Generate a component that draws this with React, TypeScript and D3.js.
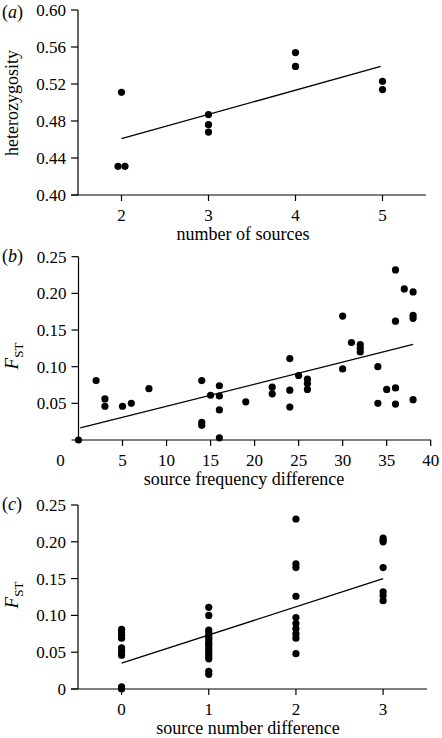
import { useEffect, useRef } from 'react';
import * as d3 from 'd3';

// (a) heterozygosity against number of sources
const sourcesX = [1.96, 2.04, 2, 3, 3, 3, 4, 4, 5, 5];
const heteroY = [0.431, 0.431, 0.511, 0.487, 0.476, 0.468, 0.554, 0.539, 0.523, 0.514];
const fitA = [[2, 0.461], [4.98, 0.539]];
const ticksAX = [2, 3, 4, 5];
const ticksAY = [0.4, 0.44, 0.48, 0.52, 0.56, 0.6];

// (b) FST against source frequency difference
const freqDiffX = [0, 2, 3, 3, 5, 6, 8, 14, 14, 14, 15, 16, 16, 16, 16, 19, 22, 22, 24, 24, 24, 25,
    26, 26, 26, 30, 30, 31, 32, 32, 32, 34, 34, 35, 36, 36, 36, 36, 37, 38, 38, 38, 38];
const fstB = [0.0, 0.081, 0.056, 0.046, 0.046, 0.05, 0.07, 0.081, 0.024, 0.02, 0.061, 0.074, 0.06,
    0.041, 0.003, 0.052, 0.072, 0.063, 0.111, 0.068, 0.045, 0.088, 0.083, 0.077, 0.069, 0.169, 0.097,
    0.133, 0.13, 0.125, 0.12, 0.1, 0.05, 0.069, 0.232, 0.162, 0.071, 0.049, 0.206, 0.202, 0.17, 0.166, 0.055];
const fitB = [[0.2, 0.0164], [38, 0.1305]];
const ticksBX = [0, 5, 10, 15, 20, 25, 30, 35, 40];
const ticksBY = [0.05, 0.1, 0.15, 0.2, 0.25];

// (c) FST against source number difference
const numDiffX = [0, 0, 0, 0, 0, 0, 0, 0, 0,
    1, 1, 1, 1, 1, 1, 1, 1, 1, 1, 1, 1, 1, 1, 1, 1, 1,
    2, 2, 2, 2, 2, 2, 2, 2, 2, 2,
    3, 3, 3, 3, 3, 3, 3];
const fstC = [0.081, 0.077, 0.073, 0.069, 0.056, 0.051, 0.046, 0.003, 0.0,
    0.111, 0.1, 0.08, 0.077, 0.073, 0.07, 0.068, 0.064, 0.061, 0.059, 0.055, 0.051, 0.047, 0.044, 0.041, 0.024, 0.02,
    0.231, 0.17, 0.165, 0.126, 0.097, 0.089, 0.082, 0.075, 0.069, 0.048,
    0.205, 0.202, 0.2, 0.165, 0.132, 0.127, 0.12];
const fitC = [[0, 0.035], [3, 0.15]];
const ticksCX = [0, 1, 2, 3];
const ticksCY = [0, 0.05, 0.1, 0.15, 0.2, 0.25];

const FONT = '"Liberation Serif", "Times New Roman", serif';

export default function App() {
    const svgRef = useRef<SVGSVGElement>(null);

    useEffect(() => {
        if (!svgRef.current) return;
        const svg = d3.select(svgRef.current);
        svg.selectAll('*').remove();

        const drawPanel = (o: any) => {
            const g = svg.append('g').attr('font-family', FONT).attr('fill', '#000');
            const x = d3.scaleLinear().domain(o.xDomain).range(o.xRange);
            const y = d3.scaleLinear().domain(o.yDomain).range(o.yRange);
            const y0 = o.yRange[0];
            const x0 = o.xRange[0];

            // axis lines
            g.append('line')
                .attr('x1', x0 - 7).attr('x2', o.xEnd)
                .attr('y1', y0).attr('y2', y0)
                .attr('stroke', '#000').attr('stroke-width', 1.2);
            g.append('line')
                .attr('x1', x0).attr('x2', x0)
                .attr('y1', o.yRange[1]).attr('y2', y0)
                .attr('stroke', '#000').attr('stroke-width', 1.2);

            // y ticks
            o.yTicks.forEach((t: number) => {
                g.append('line')
                    .attr('x1', x0 - 7).attr('x2', x0)
                    .attr('y1', y(t)).attr('y2', y(t))
                    .attr('stroke', '#000').attr('stroke-width', 1.2);
                g.append('text')
                    .attr('x', x0 - 12).attr('y', y(t) + 6)
                    .attr('text-anchor', 'end')
                    .attr('font-size', 17)
                    .text(o.yFmt(t));
            });

            // x ticks
            o.xTicks.forEach((t: number) => {
                if (!o.skipXTick || t !== o.skipXTick.value) {
                    g.append('line')
                        .attr('x1', x(t)).attr('x2', x(t))
                        .attr('y1', y0).attr('y2', y0 + 6)
                        .attr('stroke', '#000').attr('stroke-width', 1.2);
                }
                const dx = o.skipXTick && t === o.skipXTick.value ? o.skipXTick.dx : 0;
                g.append('text')
                    .attr('x', x(t) + dx).attr('y', y0 + 26)
                    .attr('text-anchor', 'middle')
                    .attr('font-size', 17)
                    .text(String(t));
            });

            // fitted line
            const line = d3.line<number[]>().x(d => x(d[0])).y(d => y(d[1]));
            g.append('path')
                .attr('d', line(o.fit)!)
                .attr('fill', 'none')
                .attr('stroke', '#000')
                .attr('stroke-width', 1.3);

            // points
            g.selectAll('circle.pt')
                .data(o.xs.map((v: number, i: number) => [v, o.ys[i]]))
                .enter()
                .append('circle')
                .attr('cx', (d: any) => x(d[0]))
                .attr('cy', (d: any) => y(d[1]))
                .attr('r', 3.6)
                .attr('fill', '#000');

            // x label
            g.append('text')
                .attr('x', o.xLabelPos[0]).attr('y', o.xLabelPos[1])
                .attr('text-anchor', 'middle')
                .attr('font-size', 18)
                .text(o.xLabel);

            // y label
            const yl = g.append('text')
                .attr('transform', `translate(${o.yLabelPos[0]},${o.yLabelPos[1]}) rotate(-90)`)
                .attr('text-anchor', 'middle')
                .attr('font-size', 18);
            if (o.yLabel === 'FST') {
                yl.append('tspan').attr('font-style', 'italic').attr('font-size', 19).text('F');
                yl.append('tspan').attr('font-size', 13).attr('dy', 5).text('ST');
            } else {
                yl.text(o.yLabel);
            }

            // panel letter
            const pl = g.append('text')
                .attr('x', 2).attr('y', o.letterY)
                .attr('font-size', 18);
            pl.append('tspan').text('(');
            pl.append('tspan').attr('font-style', 'italic').text(o.letter);
            pl.append('tspan').text(')');
        };

        drawPanel({
            xs: sourcesX, ys: heteroY, fit: fitA,
            xDomain: [1.5, 5.5], xRange: [78, 426], xEnd: 426,
            yDomain: [0.4, 0.6], yRange: [195, 10],
            xTicks: ticksAX, yTicks: ticksAY,
            yFmt: d3.format('.2f'),
            xLabel: 'number of sources', xLabelPos: [243, 240],
            yLabel: 'heterozygosity', yLabelPos: [18, 103],
            letter: 'a', letterY: 18,
        });

        drawPanel({
            xs: freqDiffX, ys: fstB, fit: fitB,
            xDomain: [0, 40], xRange: [78.5, 430.7], xEnd: 431,
            yDomain: [0, 0.25], yRange: [440, 256.7],
            xTicks: ticksBX, yTicks: ticksBY,
            yFmt: d3.format('.2f'),
            skipXTick: { value: 0, dx: -18 },
            xLabel: 'source frequency difference', xLabelPos: [244, 484.5],
            yLabel: 'FST', yLabelPos: [18, 356],
            letter: 'b', letterY: 262,
        });

        drawPanel({
            xs: numDiffX, ys: fstC, fit: fitC,
            xDomain: [-0.5, 3.5], xRange: [78, 426.7], xEnd: 427,
            yDomain: [0, 0.25], yRange: [689, 505],
            xTicks: ticksCX, yTicks: ticksCY,
            yFmt: (t: number) => (t === 0 ? '0' : d3.format('.2f')(t)),
            xLabel: 'source number difference', xLabelPos: [248, 734],
            yLabel: 'FST', yLabelPos: [18, 595],
            letter: 'c', letterY: 510,
        });
    }, []);

    return (
        <svg
            ref={svgRef}
            width={442}
            height={738}
            style={{ position: 'absolute', left: 0, top: 0, background: '#fff' }}
        />
    );
}
